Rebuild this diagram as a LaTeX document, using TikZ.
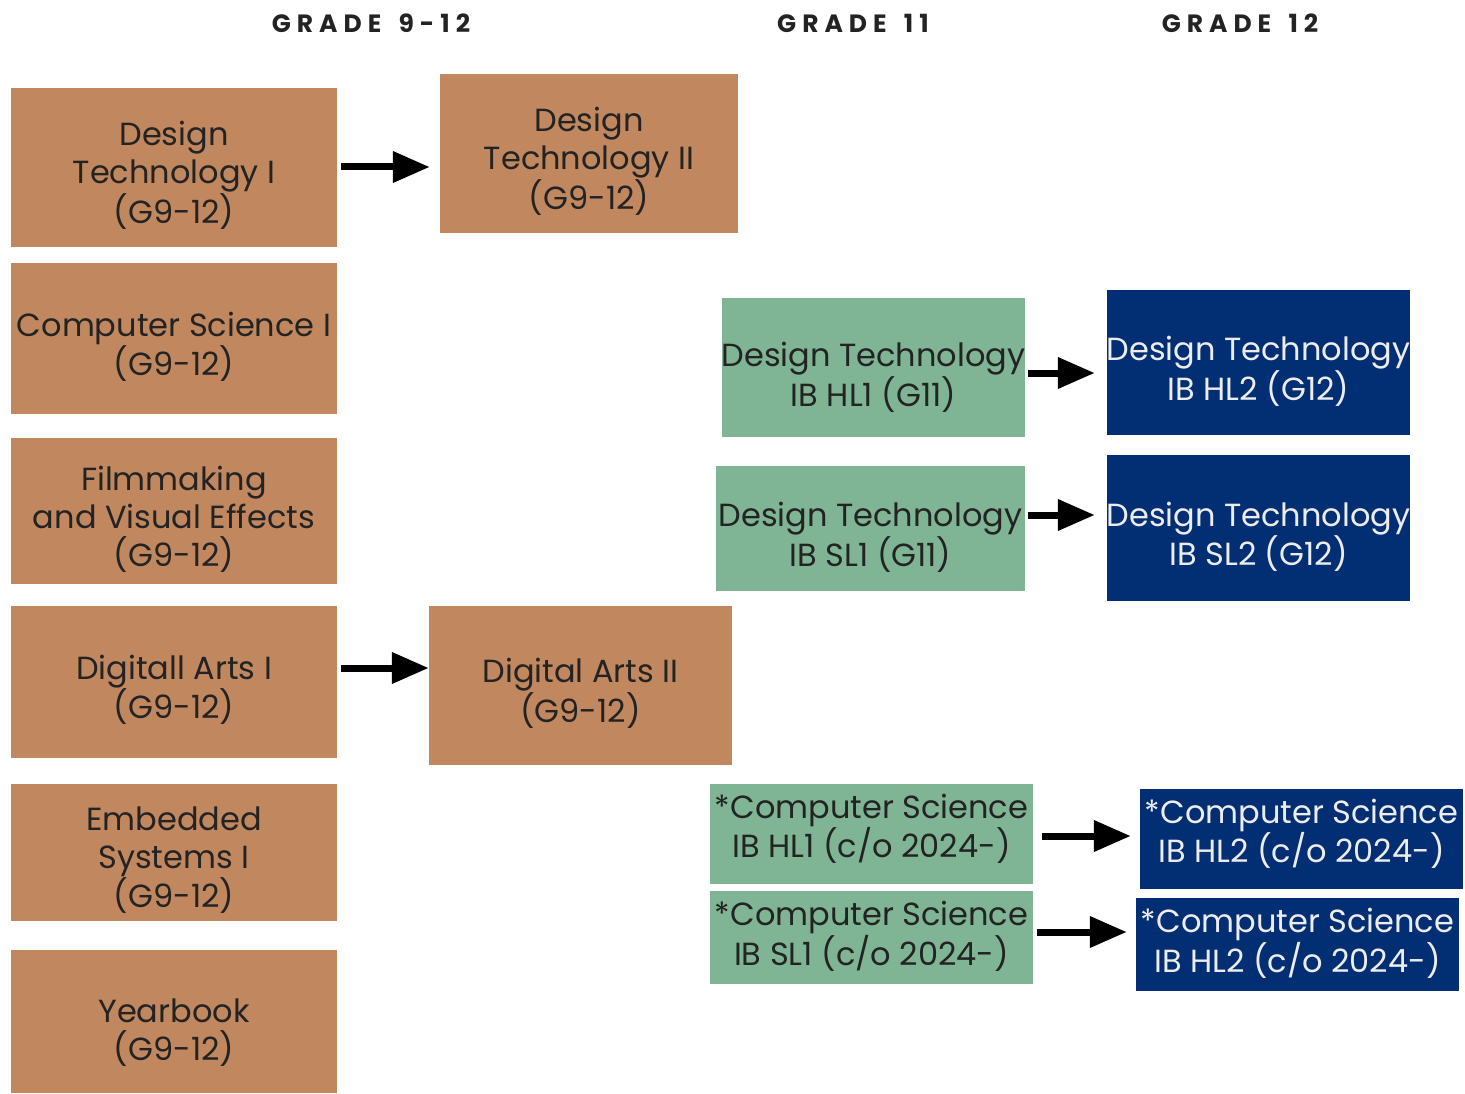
\documentclass[tikz,border=0pt]{standalone}
\usepackage{fontspec}
\setmainfont{Poppins}
\newfontfamily\gradefont[LetterSpace=24]{Poppins}
\usetikzlibrary{arrows.meta,positioning}
\definecolor{clay}{HTML}{C1875F}
\definecolor{sage}{HTML}{7FB594}
\definecolor{navy}{HTML}{022F73}
\definecolor{ink}{HTML}{232323}

\tikzset{
  course/.style={fill=clay, inner sep=0pt},
  ibone/.style={fill=sage, inner sep=0pt},
  ibtwo/.style={fill=navy, inner sep=0pt},
  words/.style={text=ink, inner sep=0pt, align=center, yshift=#1,
    font=\fontsize{32}{38}\selectfont},
  words/.default=-8pt,
  light/.style={words=#1, text=white!93!black},
  light/.default=-8pt,
  grade/.style={text=ink, font=\gradefont\bfseries\fontsize{25}{28}\selectfont},
  link/.style={-{Triangle[length=37pt,width=30pt]}, line width=7pt, black},
}

\begin{document}
\begin{tikzpicture}[x=1pt, y=-1pt]
  \useasboundingbox (0,0) rectangle (1465,1094);
  % Column headings
  \node[grade] (g912) at (371,23) {GRADE\hspace{6pt} 9-12};
  \node[grade] (g11)  at (853,23) {GRADE\hspace{6pt} 11};
  \node[grade] (g12)  at (1240,23) {GRADE\hspace{6pt} 12};
  % Grade 9-12 courses
  \node[course, minimum width=326pt, minimum height=159pt,
    label={[words]center:Design\\Technology I\\(G9-12)}] (dt1) at (174,167.5) {};
  \node[course, minimum width=326pt, minimum height=151pt,
    label={[words]center:Computer Science I\\(G9-12)}] (cs1) at (174,338.5) {};
  \node[course, minimum width=326pt, minimum height=146pt,
    label={[words]center:Filmmaking\\and Visual Effects\\(G9-12)}] (film) at (174,511) {};
  \node[course, minimum width=326pt, minimum height=152pt,
    label={[words]center:Digitall Arts I\\(G9-12)}] (da1) at (174,682) {};
  \node[course, minimum width=326pt, minimum height=137pt,
    label={[words]center:Embedded\\Systems I\\(G9-12)}] (emb) at (174,852.5) {};
  \node[course, minimum width=326pt, minimum height=143pt,
    label={[words=-11pt]center:Yearbook\\(G9-12)}] (year) at (174,1021.5) {};
  \node[course, minimum width=298pt, minimum height=159pt,
    label={[words]center:Design\\Technology II\\(G9-12)}] (dt2) at (589,153.5) {};
  \node[course, minimum width=303pt, minimum height=159pt,
    label={[words]center:Digital Arts II\\(G9-12)}] (da2) at (580.5,685.5) {};
  % IB year one
  \node[ibone, minimum width=303pt, minimum height=139pt,
    label={[words=-10pt]center:Design Technology\\IB HL1 (G11)}] (dthl1) at (873.5,367.5) {};
  \node[ibone, minimum width=309pt, minimum height=125pt,
    label={[words=-9pt]center:Design Technology\\IB SL1 (G11)}] (dtsl1) at (870.5,528.5) {};
  \node[ibone, minimum width=323pt, minimum height=100pt,
    label={[words=5pt]center:*Computer Science\\IB HL1 (c/o 2024-)}] (cshl1) at (871.5,834) {};
  \node[ibone, minimum width=323pt, minimum height=93pt,
    label={[words=1pt]center:*Computer Science\\IB SL1 (c/o 2024-)}] (cssl1) at (871.5,937.5) {};
  % IB year two
  \node[ibtwo, minimum width=303pt, minimum height=145pt,
    label={[light=-9pt]center:Design Technology\\IB HL2 (G12)}] (dthl2) at (1258.5,362.5) {};
  \node[ibtwo, minimum width=303pt, minimum height=146pt,
    label={[light=-9pt]center:Design Technology\\IB SL2 (G12)}] (dtsl2) at (1258.5,528) {};
  \node[ibtwo, minimum width=323pt, minimum height=100pt,
    label={[light=5pt]center:*Computer Science\\IB HL2 (c/o 2024-)}] (cshl2) at (1301.5,839) {};
  \node[ibtwo, minimum width=323pt, minimum height=93pt,
    label={[light=1pt]center:*Computer Science\\IB HL2 (c/o 2024-)}] (cssl2) at (1297.5,944.5) {};
  % Arrows
  \draw[link, shorten <=4pt, shorten >=10pt] (dt1.east |- 0,167) -- (dt2.west |- 0,167);
  \draw[link, shorten <=4pt] (da1.east |- 0,668) -- (da2.west |- 0,668);
  \draw[link, shorten <=3pt, shorten >=12pt] (dthl1.east |- 0,373) -- (dthl2.west |- 0,373);
  \draw[link, shorten <=3pt, shorten >=12pt] (dtsl1.east |- 0,515) -- (dtsl2.west |- 0,515);
  \draw[link, shorten <=9pt, shorten >=9pt] (cshl1.east |- 0,836) -- (cshl2.west |- 0,836);
  \draw[link, shorten <=4pt, shorten >=9pt] (cssl1.east |- 0,932) -- (cssl2.west |- 0,932);
\end{tikzpicture}
\end{document}
